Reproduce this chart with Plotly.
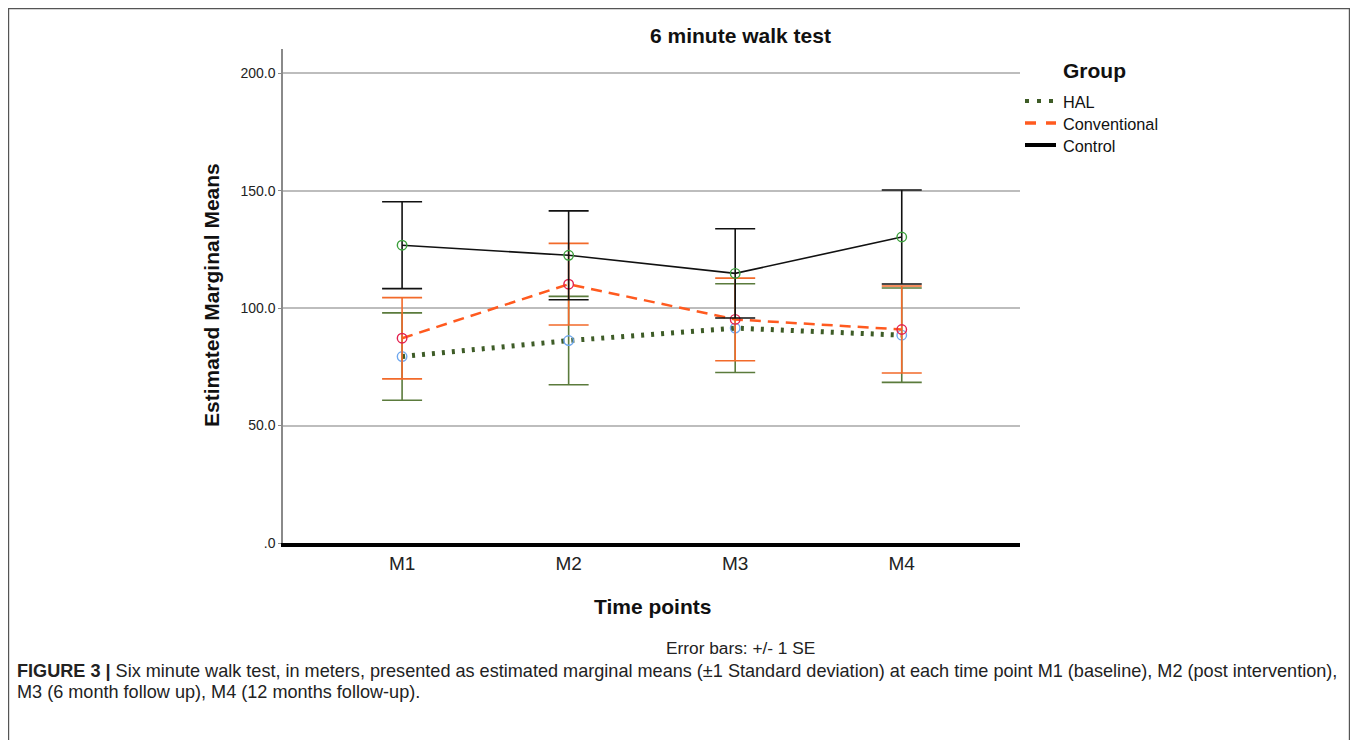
import plotly.graph_objects as go

# ---- data ----
time_points = ["M1", "M2", "M3", "M4"]
groups = ["HAL", "Conventional", "Control"]
hal_mean = [79.4, 86.2, 91.5, 88.5]
hal_se = [18.6, 18.8, 18.9, 20.1]
conv_mean = [87.2, 110.2, 95.2, 90.9]
conv_se = [17.3, 17.4, 17.6, 18.5]
ctrl_mean = [126.8, 122.5, 114.8, 130.3]
ctrl_se = [18.5, 18.9, 19.0, 20.0]
y_tickvals = [0, 50, 100, 150, 200]
y_ticktext = [".0", "50.0", "100.0", "150.0", "200.0"]

# page has an 8px body margin: work in screen pixels, shift by OFF
OFF = 8
W, H = 1358 - 2 * OFF, 748 - 2 * OFF
SL, SR, ST, SB = 283, 1020, 49, 543          # plot area in screen px
L, R, T, B = SL - OFF, SR - OFF, ST - OFF, SB - OFF


def px(x):
    return (x - SL) / (SR - SL)


def py(y):
    return (SB - y) / (SB - ST)


FONT = "Liberation Sans"
DARK = "#111111"

styles = {
    "HAL": dict(line=dict(color="#3e5c27", width=5, dash="3px,7px"),
                err="#5b7b3c", marker="#6ea7ee"),
    "Conventional": dict(line=dict(color="#ff5a1f", width=2.5, dash="11px,7px"),
                         err="#f26a2a", marker="#e3204f"),
    "Control": dict(line=dict(color="#111111", width=1.6, dash="solid"),
                    err="#111111", marker="#3ca03c"),
}
series = {"HAL": (hal_mean, hal_se), "Conventional": (conv_mean, conv_se),
          "Control": (ctrl_mean, ctrl_se)}

fig = go.Figure()
for g in groups:
    m, s = series[g]
    st = styles[g]
    fig.add_trace(go.Scatter(
        x=time_points, y=m, mode="lines+markers", name=g, showlegend=False,
        line=st["line"],
        marker=dict(symbol="circle-open", size=9.5, color=st["marker"],
                    line=dict(width=1.4, color=st["marker"])),
        error_y=dict(type="data", array=s, visible=True, color=st["err"],
                     thickness=1.6, width=20),
    ))

fig.update_layout(
    width=W, height=H,
    margin=dict(l=L, r=W - R, t=T, b=H - B, pad=0),
    paper_bgcolor="white", plot_bgcolor="white",
    font=dict(family=FONT, color=DARK),
    showlegend=False,
    xaxis=dict(type="category", range=[-0.715, 3.71], showgrid=False,
               showline=True, linecolor="#000000", linewidth=4,
               ticks="", tickfont=dict(size=19, color="#222222"),
               zeroline=False),
    yaxis=dict(range=[0, (SB - ST) / 2.3485], tickvals=y_tickvals,
               ticktext=y_ticktext, showgrid=True, gridcolor="#bdbdbd",
               gridwidth=1.5, showline=True, linecolor="#8a8a8a",
               linewidth=1.5, ticks="outside", ticklen=3, tickcolor="#8a8a8a",
               tickfont=dict(size=14, color="#222222"), zeroline=False),
)


def note(text, x, y, size, xanchor="center", yanchor="middle", angle=0,
         color=DARK):
    return dict(text=text, x=px(x), y=py(y), xref="paper", yref="paper",
                showarrow=False, xanchor=xanchor, yanchor=yanchor,
                textangle=angle, font=dict(size=size, family=FONT, color=color))


ann = [
    note("<b>6 minute walk test</b>", 740, 36, 21),
    note("<b>Estimated Marginal Means</b>", 211, 295, 21, angle=-90),
    note("<b>Time points</b>", 652, 606, 21),
    note("Error bars: +/- 1 SE", 740, 648, 17.3, color="#222222"),
    note("<b>FIGURE 3 |</b> Six minute walk test, in meters, presented as estimated marginal means (\u00b11 Standard deviation) at each time point M1 (baseline), M2 (post intervention),",
         15, 671, 18.1, xanchor="left", color="#222222"),
    note("M3 (6 month follow up), M4 (12 months follow-up).", 15, 692, 18.1,
         xanchor="left", color="#222222"),
    note("<b>Group</b>", 1061, 70, 21, xanchor="left"),
]

# legend (drawn manually to match the SPSS layout)
legend_lines = {
    "HAL": dict(color="#3e5c27", width=4, dash="4px,8px"),
    "Conventional": dict(color="#ff5a1f", width=3.5, dash="11px,10px"),
    "Control": dict(color="#000000", width=4, dash="solid"),
}
legend_y = {"HAL": 101, "Conventional": 123, "Control": 145}
for g in groups:
    yy = legend_y[g]
    fig.add_shape(type="line", xref="paper", yref="paper",
                  x0=px(1025), x1=px(1056), y0=py(yy), y1=py(yy),
                  line=legend_lines[g])
    ann.append(note(g, 1061, yy + 1, 16.3, xanchor="left"))

fig.update_layout(annotations=ann)

fig.add_shape(type="rect", xref="paper", yref="paper",
              x0=px(8.6), x1=px(1349.4), y0=py(780), y1=py(8.6),
              line=dict(color="#555555", width=1.2), fillcolor="rgba(0,0,0,0)")

fig.write_html("out.html")
